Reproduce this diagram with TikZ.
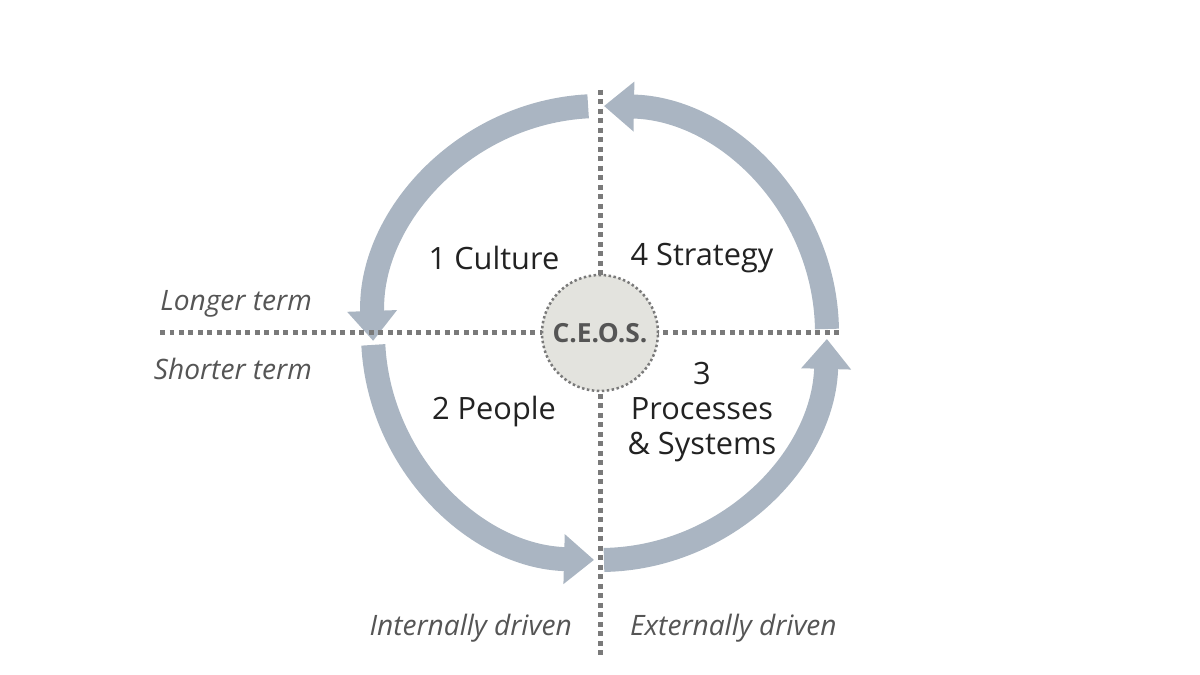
\documentclass[tikz,border=0pt]{standalone}
\usepackage{fontspec}
\setmainfont{Open Sans}
\usetikzlibrary{arrows.meta,calc}
\definecolor{ring}{HTML}{AAB5C2}
\definecolor{dotc}{HTML}{7A7A7A}
\definecolor{txt}{HTML}{222222}
\definecolor{itc}{HTML}{555555}
\definecolor{cfill}{HTML}{E3E3DE}
\begin{document}
\begin{tikzpicture}[x=0.02cm,y=0.02cm,
  ringarrow/.style={draw=ring,line width=0.48cm,-{Triangle[width=0.96cm,length=0.6cm]}},
  dotline/.style={draw=dotc,line width=0.1cm,dash pattern=on 0.1cm off 0.09cm},
  lab/.style={font=\fontsize{17.5}{20}\selectfont,text=txt,align=center},
  ilab/.style={font=\fontsize{16}{19}\selectfont\itshape,text=itc}]
\useasboundingbox (0,0) rectangle (1200,675);
\coordinate (c) at (600,342);
\def\R{227}
% ring arrows
\draw[ringarrow] ($(c)+(93:\R)$) arc[start angle=93,end angle=182,radius=\R] coordinate (a1);
\draw[ringarrow] ($(c)+(1:\R)$) arc[start angle=1,end angle=89,radius=\R] coordinate (a2);
\draw[ringarrow] ($(c)+(-89:\R)$) arc[start angle=-89,end angle=-1.5,radius=\R] coordinate (a3);
\draw[ringarrow] ($(c)+(183:\R)$) arc[start angle=183,end angle=268.5,radius=\R] coordinate (a4);
% dotted axes
\coordinate (vt) at (600,585); \coordinate (vb) at (600,20);
\coordinate (hl) at (160,342); \coordinate (hr) at (840,342);
\draw[dotline] (vt) -- (vb);
\draw[dotline] (hl) -- (hr);
\node[circle,minimum size=2.32cm,fill=cfill,draw=dotc,line width=0.05cm,dash pattern=on 0.05cm off 0.05cm,
  font=\fontsize{15}{18}\selectfont\bfseries,text=itc,inner sep=0] (ceos) at (c) {C.E.O.S.};
\node[lab] (cul) at (494,417) {1 Culture};
\node[lab] (str) at (702,417) {4 Strategy};
\node[lab] (peo) at (494,263) {2 People};
\node[lab] (pro) at (702,263) {3\\Processes\\\& Systems};
\node[ilab,anchor=east] (lt) at (318,371) {Longer term};
\node[ilab,anchor=east] (st) at (318,306) {Shorter term};
\node[ilab,anchor=east] (id) at (578,47) {Internally driven};
\node[ilab,anchor=west] (ed) at (624,47) {Externally driven};
\end{tikzpicture}
\end{document}
